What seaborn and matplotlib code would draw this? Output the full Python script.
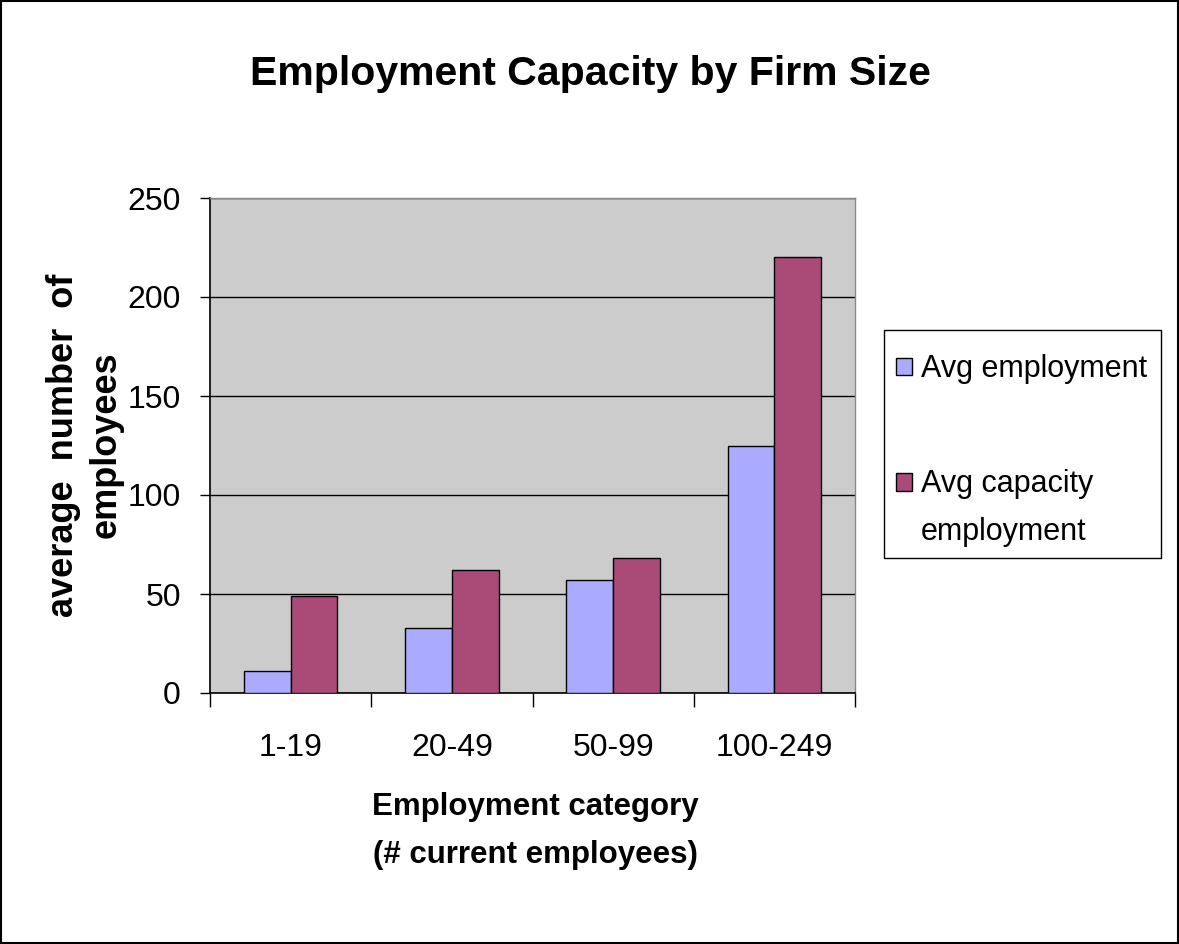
import matplotlib
matplotlib.use("Agg")
import matplotlib.pyplot as plt
import seaborn as sns
import pandas as pd
from matplotlib.ticker import FixedLocator
from matplotlib.patches import Rectangle
from matplotlib.legend_handler import HandlerPatch

categories = ["1-19", "20-49", "50-99", "100-249"]
avg_employment = [11, 33, 57, 125]
avg_capacity = [49, 62, 68, 220]
series_names = ["Avg employment", "Avg capacity\nemployment"]
y_ticks = [0, 50, 100, 150, 200, 250]

df = pd.DataFrame({
    "category": categories * 2,
    "value": avg_employment + avg_capacity,
    "series": [series_names[0]] * 4 + [series_names[1]] * 4,
})

sns.set_theme(style="white")
FONT = ["Liberation Sans", "DejaVu Sans"]
plt.rcParams["font.family"] = FONT
for k in ["text.color", "axes.labelcolor", "xtick.color", "ytick.color"]:
    plt.rcParams[k] = "black"

fig = plt.figure(figsize=(11.79, 9.44), dpi=100)
ax = fig.add_axes([210/1179, 1-693/944, (855-210)/1179, (693-198)/944])
ax.set_facecolor("#CCCCCC")

sns.barplot(data=df, x="category", y="value", hue="series", order=categories,
            hue_order=series_names, palette=["#AAAAFF", "#A94A77"], width=0.58,
            edgecolor="black", linewidth=1.0, saturation=1, ax=ax, legend=True, zorder=3)

ax.set_xlim(-0.5, 3.5)
ax.set_ylim(0, 250)
ax.set_yticks(y_ticks)
ax.set_yticklabels([str(t) for t in y_ticks], fontsize=23)
ax.yaxis.grid(True, color="black", linewidth=1.0, zorder=1)
ax.set_axisbelow(True)
ax.tick_params(axis="y", which="major", length=7, width=1, color="black", pad=14, left=True)
ax.tick_params(axis="x", which="major", length=0, pad=29, labelsize=23)
ax.xaxis.set_minor_locator(FixedLocator([-0.5, 0.5, 1.5, 2.5, 3.5]))
ax.tick_params(axis="x", which="minor", length=10, width=1, color="black", bottom=True)
ax.set_xlabel("")
ax.set_ylabel("")
for s in ["left", "bottom"]:
    ax.spines[s].set_color("black")
    ax.spines[s].set_linewidth(1.2)
for s in ["top", "right"]:
    ax.spines[s].set_color("#888888")
    ax.spines[s].set_linewidth(1.0)


def shifted_square(shift_pts):
    def make(legend, orig_handle, xdescent, ydescent, width, height, fontsize):
        return Rectangle((-xdescent, -ydescent + shift_pts), width, height)
    return make


handles, labels = ax.get_legend_handles_labels()
ax.legend_.remove()
leg = fig.legend(handles, labels, loc="upper left", bbox_to_anchor=(881/1179, 1-339/944),
                 prop={"family": FONT, "size": 22}, frameon=False,
                 handlelength=0.5, handleheight=0.5, handletextpad=0.3,
                 labelspacing=2.76, borderpad=0.5, borderaxespad=0,
                 handler_map={handles[1]: HandlerPatch(patch_func=shifted_square(19))})
leg.get_texts()[1].set_linespacing(1.8)

# legend box outline
fig.patches.append(Rectangle((884/1179, 1-558/944), (1161-884)/1179, (558-330)/944,
                             transform=fig.transFigure, fill=False, edgecolor="black",
                             linewidth=1.0))

fig.text(590/1179, 1-74/944, "Employment Capacity by Firm Size", ha="center", va="center",
         fontsize=29.5, fontweight="bold")
fig.text(535/1179, 1-831/944, "Employment category\n(# current employees)", ha="center",
         va="center", fontsize=22.5, fontweight="bold", linespacing=1.75, multialignment="center")
fig.text(85/1179, 1-445/944, "average  number  of\nemployees", ha="center", va="center",
         rotation=90, fontsize=26, fontweight="bold", linespacing=1.3, multialignment="center")

fig.patches.append(Rectangle((0.001, 0.001), 0.998, 0.998, transform=fig.transFigure,
                             fill=False, edgecolor="black", linewidth=1.5))

fig.savefig("out.png", dpi=100)
